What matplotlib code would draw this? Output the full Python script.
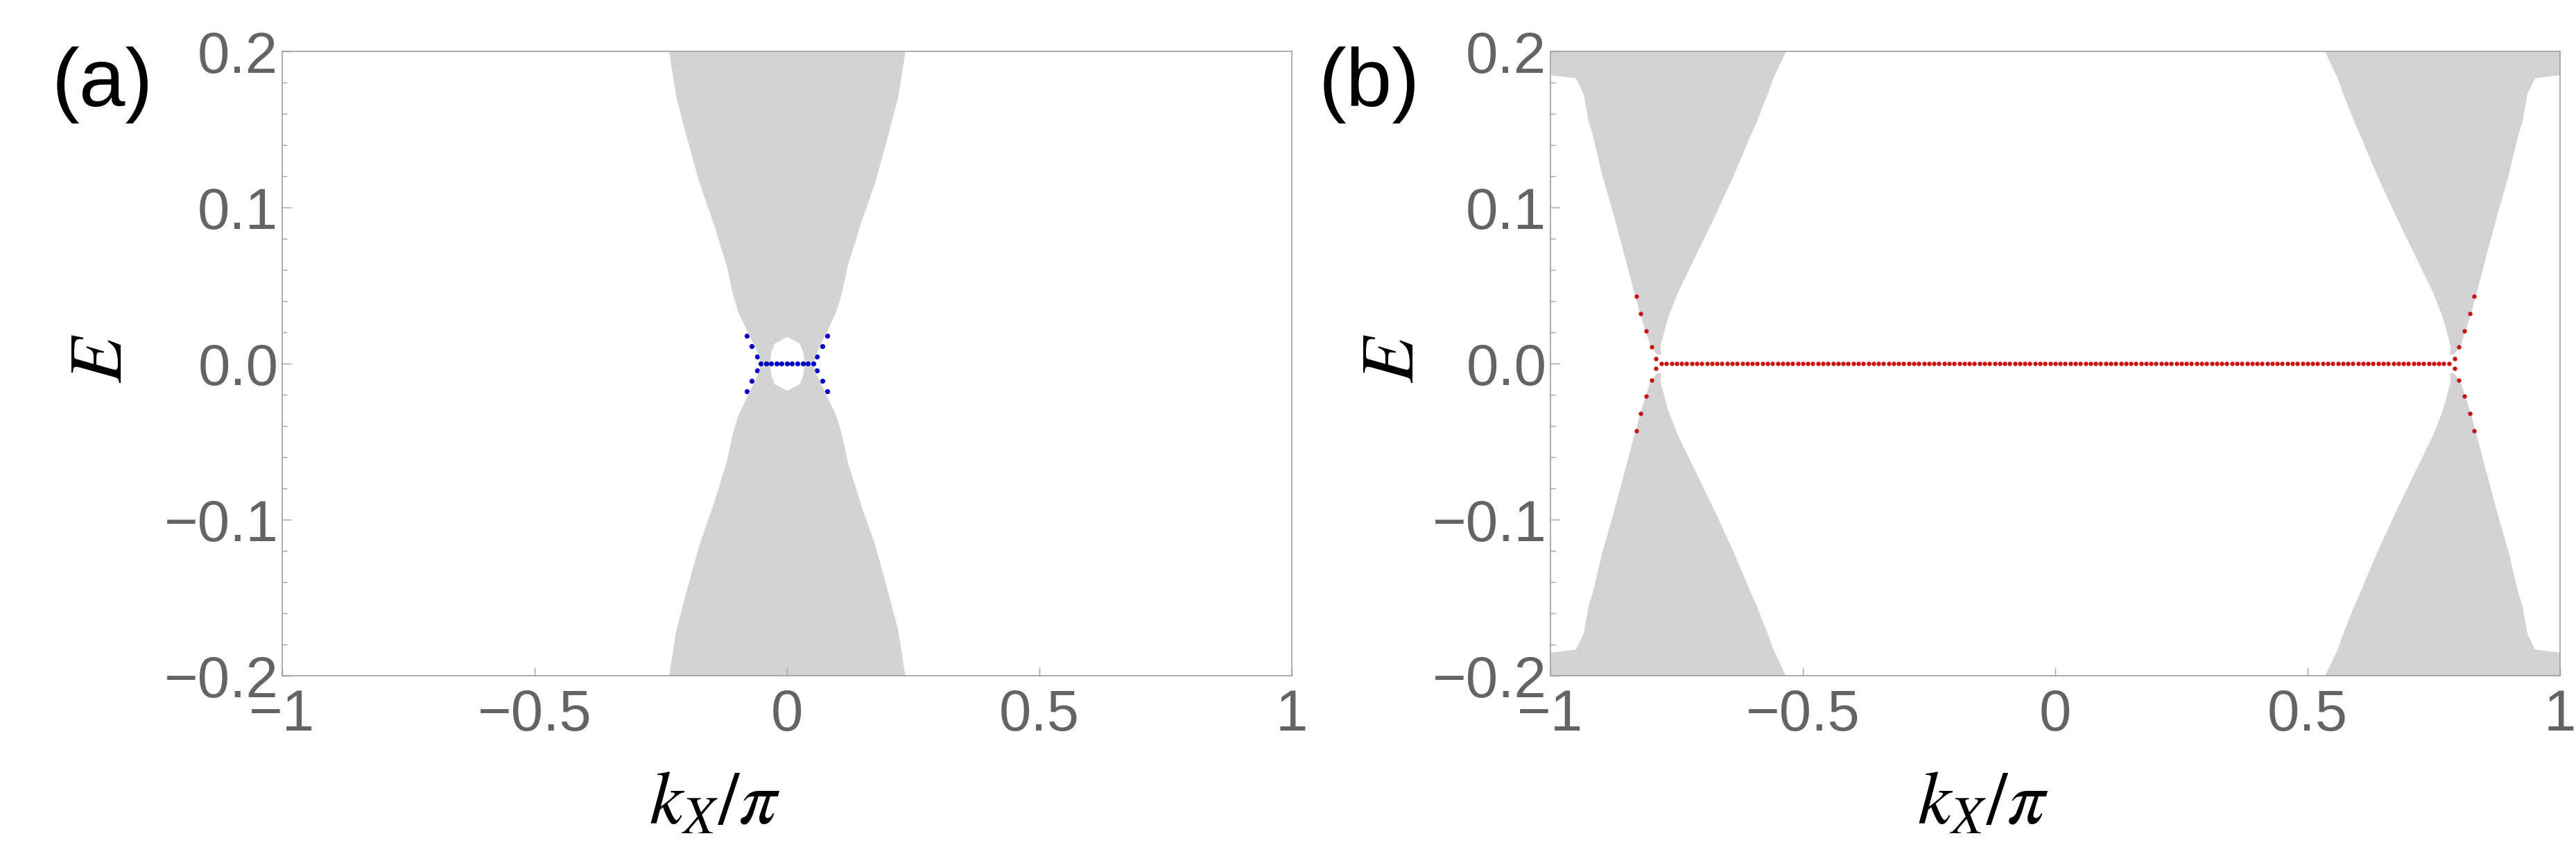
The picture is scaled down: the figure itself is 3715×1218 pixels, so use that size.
import numpy as np
import matplotlib
matplotlib.use('Agg')
from matplotlib import pyplot as plt
from matplotlib.ticker import MultipleLocator

plt.rcParams['font.family'] = ['Liberation Sans', 'DejaVu Sans']
plt.rcParams['mathtext.fontset'] = 'stix'

# ---- panel (a): bulk band envelope (gray) and the small hole around E=0
a_E = [-0.2, -0.171, -0.144, -0.117, -0.090, -0.063, -0.045, -0.034, -0.018, -0.011, -0.0046, 0.0,
       0.0046, 0.011, 0.018, 0.034, 0.045, 0.063, 0.090, 0.117, 0.144, 0.171, 0.2]
a_left = [-0.234, -0.220, -0.198, -0.175, -0.146, -0.120, -0.108, -0.098, -0.075, -0.064, -0.055, -0.053,
          -0.055, -0.064, -0.075, -0.098, -0.108, -0.120, -0.146, -0.175, -0.198, -0.220, -0.234]
a_right = [0.234, 0.220, 0.198, 0.175, 0.146, 0.120, 0.108, 0.098, 0.075, 0.064, 0.055, 0.053,
           0.055, 0.064, 0.075, 0.098, 0.108, 0.120, 0.146, 0.175, 0.198, 0.220, 0.234]
a_hole_E = [-0.0172, -0.013, -0.007, 0.0, 0.007, 0.013, 0.0172]
a_hole_left = [0.0, -0.025, -0.032, -0.034, -0.032, -0.025, 0.0]
a_hole_right = [0.0, 0.025, 0.032, 0.034, 0.032, 0.025, 0.0]

# blue edge states in (a)
a_flat_k = [-0.052, -0.0416, -0.0312, -0.0208, -0.0104, 0.0, 0.0104, 0.0208, 0.0312, 0.0416, 0.052]
a_side_k = [-0.0595, -0.0696, -0.080, -0.0595, -0.0696, -0.080, 0.0595, 0.0696, 0.080, 0.0595, 0.0696, 0.080]
a_side_E = [0.0046, 0.0111, 0.0178, -0.0046, -0.0111, -0.0178, 0.0046, 0.0111, 0.0178, -0.0046, -0.0111, -0.0178]

# ---- panel (b): two bulk cones, upper (E>0) and lower (E<0) halves
b_up_E = [0.006, 0.011, 0.029, 0.045, 0.071, 0.095, 0.121, 0.147, 0.155, 0.173, 0.183, 0.185, 0.2]
bL_up_left = [-0.789, -0.802, -0.820, -0.834, -0.855, -0.875, -0.898, -0.917, -0.925, -0.935, -0.950, -1.0, -1.0]
bL_up_right = [-0.781, -0.783, -0.768, -0.749, -0.710, -0.674, -0.637, -0.603, -0.592, -0.570, -0.559, -0.556, -0.534]
bR_up_left = [0.781, 0.783, 0.768, 0.749, 0.710, 0.674, 0.637, 0.603, 0.592, 0.570, 0.559, 0.556, 0.534]
bR_up_right = [0.789, 0.802, 0.820, 0.834, 0.855, 0.875, 0.898, 0.917, 0.925, 0.935, 0.950, 1.0, 1.0]

b_dn_E = [-0.2, -0.185, -0.183, -0.173, -0.155, -0.147, -0.121, -0.095, -0.071, -0.045, -0.029, -0.011, -0.006]
bL_dn_left = [-1.0, -1.0, -0.950, -0.935, -0.925, -0.917, -0.898, -0.875, -0.855, -0.834, -0.820, -0.802, -0.789]
bL_dn_right = [-0.534, -0.556, -0.559, -0.570, -0.592, -0.603, -0.637, -0.674, -0.710, -0.749, -0.768, -0.783, -0.781]
bR_dn_left = [0.534, 0.556, 0.559, 0.570, 0.592, 0.603, 0.637, 0.674, 0.710, 0.749, 0.768, 0.783, 0.781]
bR_dn_right = [1.0, 1.0, 0.950, 0.935, 0.925, 0.917, 0.898, 0.875, 0.855, 0.834, 0.820, 0.802, 0.789]

# red flat edge band in (b): k grid from -0.78 to 0.78, E = 0
b_flat_k = np.linspace(-0.78, 0.78, 157)
b_flat_E = 0.0
b_side_k = [-0.791, -0.800, -0.810, -0.821, -0.830, -0.791, -0.800, -0.810, -0.821, -0.830,
            0.791, 0.800, 0.810, 0.821, 0.830, 0.791, 0.800, 0.810, 0.821, 0.830]
b_side_E = [0.003, 0.0105, 0.021, 0.032, 0.043, -0.003, -0.0105, -0.021, -0.032, -0.043,
            0.003, 0.0105, 0.021, 0.032, 0.043, -0.003, -0.0105, -0.021, -0.032, -0.043]

xticks = [-1, -0.5, 0, 0.5, 1]
xtick_labels = ['\u22121', '\u22120.5', '0', '0.5', '1']
yticks = [-0.2, -0.1, 0.0, 0.1, 0.2]
ytick_labels = ['\u22120.2', '\u22120.1', '0.0', '0.1', '0.2']

gray = '#d3d3d3'
blue = '#0000c8'
red = '#cc1111'
tick_gray = '#646464'
frame_gray = '#a0a0a0'

fig = plt.figure(figsize=(37.16, 12.18), dpi=100)
ax_a = fig.add_axes([0.1095, 0.2003, 0.3918, 0.7389])
ax_b = fig.add_axes([0.6017, 0.2003, 0.3918, 0.7389])

# (a) - side states sit under the bulk and only peek out at its edge
ax_a.plot(a_side_k, a_side_E, 'o', color=blue, ms=5.2, mew=0, zorder=0.5)
ax_a.fill_betweenx(a_E, a_left, a_right, color=gray, lw=0, zorder=1)
ax_a.fill_betweenx(a_hole_E, a_hole_left, a_hole_right, color='white', lw=0, zorder=2)
ax_a.plot(a_flat_k, [0.0] * len(a_flat_k), 'o', color=blue, ms=5.2, mew=0, zorder=3)

# (b)
for E, l, r in [(b_up_E, bL_up_left, bL_up_right), (b_up_E, bR_up_left, bR_up_right),
                (b_dn_E, bL_dn_left, bL_dn_right), (b_dn_E, bR_dn_left, bR_dn_right)]:
    ax_b.fill_betweenx(E, l, r, color=gray, lw=0, zorder=1)
ax_b.plot(b_flat_k, [b_flat_E] * len(b_flat_k), 'o', color=red, ms=4.6, mew=0, zorder=3)
ax_b.plot(b_side_k, b_side_E, 'o', color=red, ms=4.6, mew=0, zorder=3)

for ax in (ax_a, ax_b):
    ax.set_xlim(-1, 1)
    ax.set_ylim(-0.2, 0.2)
    ax.set_xticks(xticks)
    ax.set_xticklabels(xtick_labels)
    ax.set_yticks(yticks)
    ax.set_yticklabels(ytick_labels)
    ax.yaxis.set_minor_locator(MultipleLocator(0.02))
    ax.tick_params(which='both', direction='in', color=frame_gray, width=1.0,
                   labelsize=60, labelcolor=tick_gray)
    ax.tick_params(which='major', length=9)
    ax.tick_params(which='minor', length=5)
    ax.tick_params(axis='x', pad=13)
    ax.tick_params(axis='y', pad=4)
    for s in ax.spines.values():
        s.set_color(frame_gray)
        s.set_linewidth(1.2)

# axis labels and panel tags
for xl, yl, tx, tag in [(1031, 147, 148, '(a)'), (2860, 2010, 1975, '(b)')]:
    fig.text(xl / 3716, 1 - 1160 / 1218, r'$k_X/\pi$', fontsize=78, ha='center', va='center')
    fig.text(yl / 3716, 1 - 517 / 1218, r'$E$', fontsize=78, ha='center', va='center', rotation=90)
    fig.text(tx / 3716, 1 - 122 / 1218, tag, fontsize=86, ha='center', va='center', color='black')

fig.savefig('out.png', dpi=100)
